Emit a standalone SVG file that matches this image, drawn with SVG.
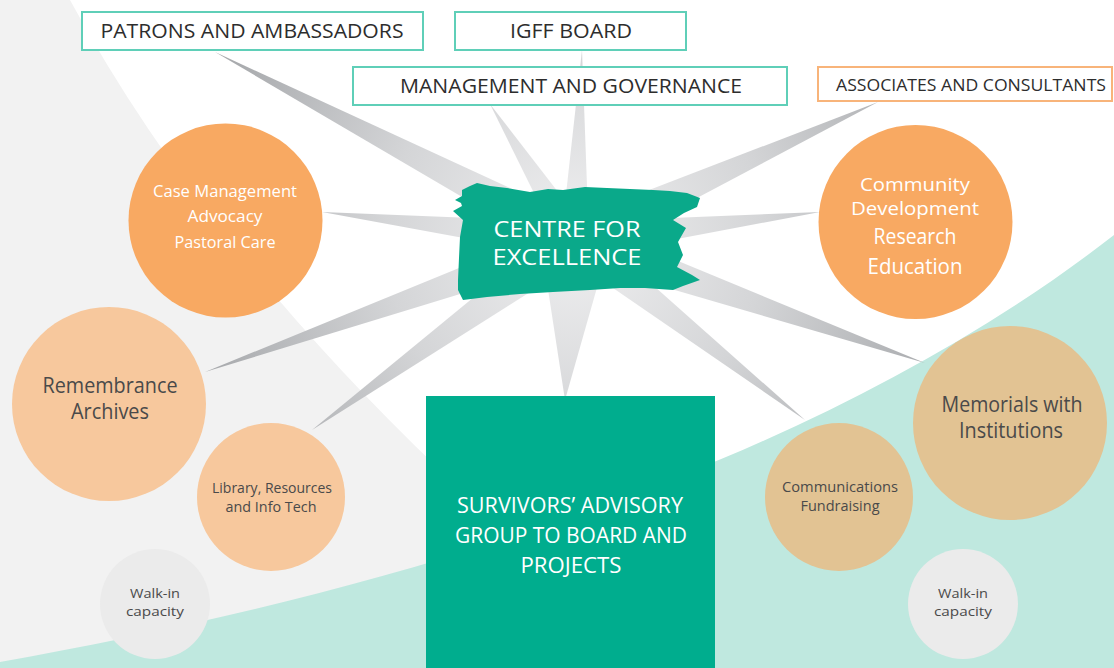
<svg xmlns="http://www.w3.org/2000/svg" width="1114" height="668" viewBox="0 0 1114 668">
<defs>
<radialGradient id="spk" gradientUnits="userSpaceOnUse" cx="575" cy="240" r="380">
<stop offset="0" stop-color="#f0f0f1"/>
<stop offset="0.5" stop-color="#d4d5d7"/>
<stop offset="1" stop-color="#a9abae"/>
</radialGradient>
<style>
.lbl{font-family:"Open Sans","Noto Sans",sans-serif;text-anchor:middle}
.box{fill:#ffffff;stroke:#5fcfb8;stroke-width:2}
.boxo{fill:#ffffff;stroke:#f8b47a;stroke-width:2}
.dk{fill:#2d2d2d}
.gy{fill:#4a4a4a}
.wt{fill:#ffffff}
.spike{fill:url(#spk)}
</style>
</defs>
<rect x="0" y="0" width="1114" height="668" fill="#ffffff"/>
<path d="M0,0 L70,0 Q200,240 440,470 L440,668 L0,668 Z" fill="#f2f2f2"/>
<path d="M0,662 C350,600 800,480 1114,235 L1114,668 L0,668 Z" fill="#bfe8df"/>
<g id="connectors">
<polygon class="spike" points="215,52 584.3,222.3 565.7,257.7"/>
<polygon class="spike" points="582,50 589,240.5 561,239.5"/>
<polygon class="spike" points="490,104 588.6,231.5 561.4,248.5"/>
<polygon class="spike" points="878,102 583.3,258.2 566.7,221.8"/>
<polygon class="spike" points="820,212 577,257.9 573,222.1"/>
<polygon class="spike" points="925,363 568.4,258.9 581.6,221.1"/>
<polygon class="spike" points="805,420 563.9,254.2 586.1,225.8"/>
<polygon class="spike" points="565,400 540.1,237.8 609.9,242.2"/>
<polygon class="spike" points="312,430 563.3,223.8 586.7,256.2"/>
<polygon class="spike" points="205,372 569,223 581,257"/>
<polygon class="spike" points="322,212 577,222.1 573,257.9"/>
</g>
<g id="patrons">
<rect class="box" x="82" y="12" width="341" height="38"/>
<text class="lbl dk" x="252" y="38" font-size="20" textLength="303" lengthAdjust="spacingAndGlyphs">PATRONS AND AMBASSADORS</text>
</g>
<g id="igff">
<rect class="box" x="455" y="12" width="231" height="38"/>
<text class="lbl dk" x="571" y="38" font-size="20" textLength="122" lengthAdjust="spacingAndGlyphs">IGFF BOARD</text>
</g>
<g id="management">
<rect class="box" x="353" y="67" width="434" height="38"/>
<text class="lbl dk" x="571" y="93" font-size="20" textLength="342" lengthAdjust="spacingAndGlyphs">MANAGEMENT AND GOVERNANCE</text>
</g>
<g id="associates">
<rect class="boxo" x="818" y="67" width="294" height="34"/>
<text class="lbl dk" x="971" y="91" font-size="17" textLength="270" lengthAdjust="spacingAndGlyphs">ASSOCIATES AND CONSULTANTS</text>
</g>
<g id="case">
<circle cx="225.5" cy="220.5" r="97" fill="#f8a962"/>
<text class="lbl wt" x="225" y="197" font-size="16" textLength="144" lengthAdjust="spacingAndGlyphs">Case Management</text>
<text class="lbl wt" x="225" y="222" font-size="16" textLength="75" lengthAdjust="spacingAndGlyphs">Advocacy</text>
<text class="lbl wt" x="225" y="248" font-size="16" textLength="101" lengthAdjust="spacingAndGlyphs">Pastoral Care</text>
</g>
<g id="community">
<circle cx="915.5" cy="222" r="97" fill="#f8a962"/>
<text class="lbl wt" x="915" y="191" font-size="19" textLength="110" lengthAdjust="spacingAndGlyphs">Community</text>
<text class="lbl wt" x="915" y="215" font-size="19" textLength="128" lengthAdjust="spacingAndGlyphs">Development</text>
<text class="lbl wt" x="915" y="244" font-size="21" textLength="83" lengthAdjust="spacingAndGlyphs">Research</text>
<text class="lbl wt" x="915" y="274" font-size="21" textLength="95" lengthAdjust="spacingAndGlyphs">Education</text>
</g>
<g id="remembrance">
<circle cx="109" cy="404" r="97" fill="#f7c89d"/>
<text class="lbl gy" x="110" y="393" font-size="21" textLength="135" lengthAdjust="spacingAndGlyphs">Remembrance</text>
<text class="lbl gy" x="110" y="419" font-size="21" textLength="78" lengthAdjust="spacingAndGlyphs">Archives</text>
</g>
<g id="library">
<circle cx="271" cy="497" r="74" fill="#f7c89d"/>
<text class="lbl gy" x="272" y="493" font-size="14" textLength="120" lengthAdjust="spacingAndGlyphs">Library, Resources</text>
<text class="lbl gy" x="271" y="512" font-size="14" textLength="91" lengthAdjust="spacingAndGlyphs">and Info Tech</text>
</g>
<g id="walkin-left">
<circle cx="155" cy="604" r="55" fill="#ebebeb"/>
<text class="lbl gy" x="155" y="598" font-size="13" textLength="50" lengthAdjust="spacingAndGlyphs">Walk-in</text>
<text class="lbl gy" x="155" y="616" font-size="13" textLength="58" lengthAdjust="spacingAndGlyphs">capacity</text>
</g>
<g id="memorials">
<circle cx="1010" cy="423" r="97" fill="#e2c393"/>
<text class="lbl gy" x="1012" y="412" font-size="21" textLength="141" lengthAdjust="spacingAndGlyphs">Memorials with</text>
<text class="lbl gy" x="1011" y="438" font-size="21" textLength="104" lengthAdjust="spacingAndGlyphs">Institutions</text>
</g>
<g id="communications">
<circle cx="839" cy="497" r="74" fill="#e2c393"/>
<text class="lbl gy" x="840" y="492" font-size="14" textLength="116" lengthAdjust="spacingAndGlyphs">Communications</text>
<text class="lbl gy" x="840" y="511" font-size="14" textLength="79" lengthAdjust="spacingAndGlyphs">Fundraising</text>
</g>
<g id="walkin-right">
<circle cx="963" cy="604" r="55" fill="#ebebeb"/>
<text class="lbl gy" x="963" y="598" font-size="13" textLength="50" lengthAdjust="spacingAndGlyphs">Walk-in</text>
<text class="lbl gy" x="963" y="616" font-size="13" textLength="58" lengthAdjust="spacingAndGlyphs">capacity</text>
</g>
<g id="survivors">
<rect x="426" y="396" width="289" height="272" fill="#00ad8e"/>
<text class="lbl wt" x="570" y="513" font-size="21" textLength="226" lengthAdjust="spacingAndGlyphs">SURVIVORS’ ADVISORY</text>
<text class="lbl wt" x="571" y="543" font-size="21" textLength="232" lengthAdjust="spacingAndGlyphs">GROUP TO BOARD AND</text>
<text class="lbl wt" x="571" y="573" font-size="21" textLength="101" lengthAdjust="spacingAndGlyphs">PROJECTS</text>
</g>
<g id="centre">
<path d="M462,190 L470,186 L477,183 L490,186 L507,188 L530,192 L548,189 L563,190 L585,187 L607,188 L630,189 L653,190 L670,191 L687,193 L700,198 L697,207 L684,213 L673,220 L686,228 L678,242 L683,255 L677,267 L692,275 L700,280 L683,286 L673,290 L645,288 L620,288 L590,290 L553,292 L520,294 L487,297 L463,300 L458,290 L458,280 L459,258 L460,237 L463,220 L453,211 L462,206 L461,203 L455,200 L462,196 Z" fill="#0aa98a"/>
<text class="lbl wt" x="567" y="237" font-size="22" textLength="147" lengthAdjust="spacingAndGlyphs">CENTRE FOR</text>
<text class="lbl wt" x="567" y="265" font-size="22" textLength="149" lengthAdjust="spacingAndGlyphs">EXCELLENCE</text>
</g>
</svg>
